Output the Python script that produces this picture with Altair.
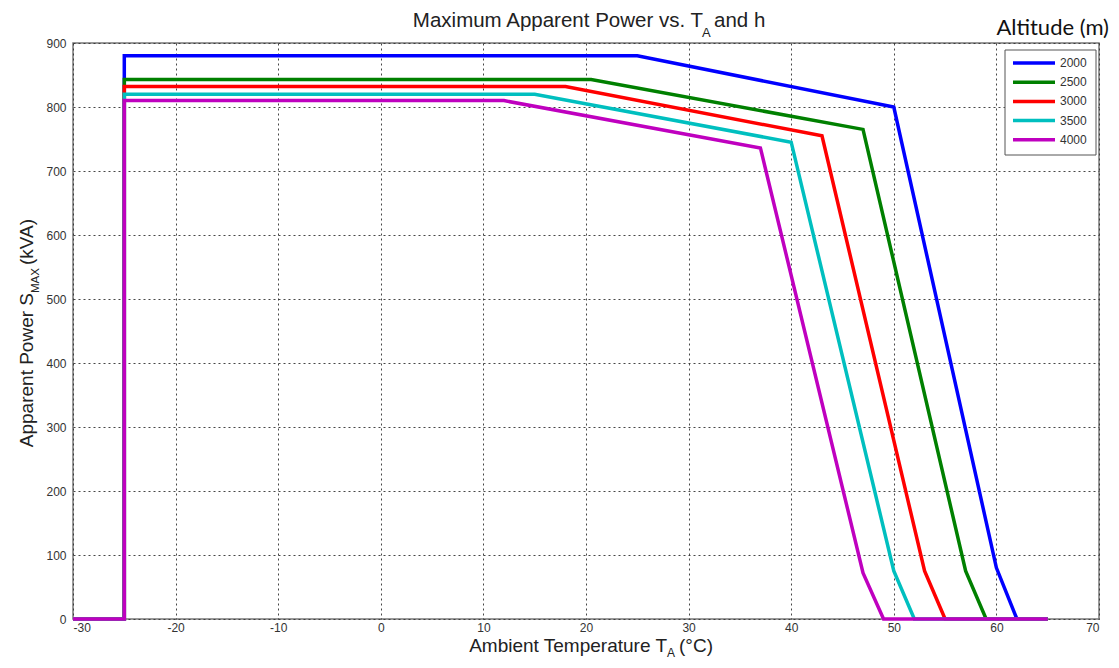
import altair as alt
import pandas as pd

# ---------------- data ----------------
altitudes = ["2000", "2500", "3000", "3500", "4000"]
colors = ["#0000FF", "#008000", "#FF0000", "#00BFBF", "#BF00BF"]

temp_2000 = [-30, -25, -25, 25, 50, 60, 62, 65]
power_2000 = [0, 0, 880, 880, 800, 80, 0, 0]
temp_2500 = [-30, -25, -25, 20.5, 47, 57, 59, 65]
power_2500 = [0, 0, 843, 843, 765, 75, 0, 0]
temp_3000 = [-30, -25, -25, 18, 43, 53, 55, 65]
power_3000 = [0, 0, 832, 832, 755, 75, 0, 0]
temp_3500 = [-30, -25, -25, 15, 40, 50, 52, 65]
power_3500 = [0, 0, 820, 820, 745, 75, 0, 0]
temp_4000 = [-30, -25, -25, 12, 37, 47, 49, 65]
power_4000 = [0, 0, 810, 810, 736, 72, 0, 0]

x_ticks = list(range(-30, 71, 10))
y_ticks = list(range(0, 901, 100))

series = {
    "2000": (temp_2000, power_2000),
    "2500": (temp_2500, power_2500),
    "3000": (temp_3000, power_3000),
    "3500": (temp_3500, power_3500),
    "4000": (temp_4000, power_4000),
}

rows = []
for a in altitudes:
    ts, ps = series[a]
    for i, (t, p) in enumerate(zip(ts, ps)):
        rows.append({"alt": a, "i": i, "T": t, "P": p})
df = pd.DataFrame(rows)

W, H = 1026, 576
FONT = "Liberation Sans"
one = pd.DataFrame({"k": [0]})

lines = alt.Chart(df).mark_line(strokeWidth=3.5).encode(
    x=alt.X("T:Q", scale=alt.Scale(domain=[-30, 70], nice=False, zero=False),
            axis=alt.Axis(values=x_ticks, title=None, labelPadding=3,
                          labelExpr="'' + datum.value")),
    y=alt.Y("P:Q", scale=alt.Scale(domain=[0, 900], nice=False),
            axis=alt.Axis(values=y_ticks, title=None, labelPadding=7)),
    color=alt.Color("alt:N", scale=alt.Scale(domain=altitudes, range=colors), legend=None),
    order="i:Q",
)


def txt(text, x, y, size, align="left", angle=0, font=FONT, color="#222", baseline="alphabetic"):
    kw = dict(fontSize=size, font=font, align=align, baseline=baseline, color=color)
    if angle:
        kw["angle"] = angle
    return alt.Chart(one).mark_text(**kw).encode(
        x=alt.value(x), y=alt.value(y), text=alt.value(text))


texts = [
    # title
    txt("Maximum Apparent Power vs. T", 630, -16, 20.5, align="right"),
    txt("A", 629, -6, 13),
    txt("and h", 641, -16, 20.5),
    # x title
    txt("Ambient Temperature T", 594, 609, 19, align="right"),
    txt("A", 594, 614, 12),
    txt("(°C)", 606, 609, 19),
    # y title
    txt("Apparent Power S", -40, 250, 19, align="right", angle=270),
    txt("MAX", -34, 250, 11.5, align="left", angle=270),
    txt("(kVA)", -40, 222, 19, align="left", angle=270),
    # legend title
    txt("Altitude (m)", 1036, -8, 22, align="right", font="Lato", color="#111"),
]

# legend box (drawn manually inside the plot)
legend_layers = [
    alt.Chart(one).mark_rect(fill="white", stroke="#555", strokeWidth=1).encode(
        x=alt.value(932), x2=alt.value(1023), y=alt.value(7), y2=alt.value(112))
]
for k, (a, c) in enumerate(zip(altitudes, colors)):
    yy = 20 + 19.2 * k
    legend_layers.append(
        alt.Chart(one).mark_rule(color=c, strokeWidth=3.5).encode(
            x=alt.value(940), x2=alt.value(982), y=alt.value(yy)))
    legend_layers.append(txt(a, 987, yy, 12, baseline="middle", color="#333"))

chart = alt.layer(lines, *legend_layers, *texts).properties(
    width=W, height=H,
    padding={"left": 65, "top": 35, "right": 12, "bottom": 41},
    autosize=alt.AutoSizeParams(type="none"),
).configure_view(
    stroke="#777", strokeWidth=1.5
).configure_axis(
    labelFont=FONT, labelFontSize=12, labelColor="#333",
    grid=True, gridColor="#333", gridDash=[2, 3], gridWidth=1, gridOpacity=0.9,
    domain=False, tickSize=0,
)

chart.save("out.html", embed_options={"renderer": "svg", "actions": False})
